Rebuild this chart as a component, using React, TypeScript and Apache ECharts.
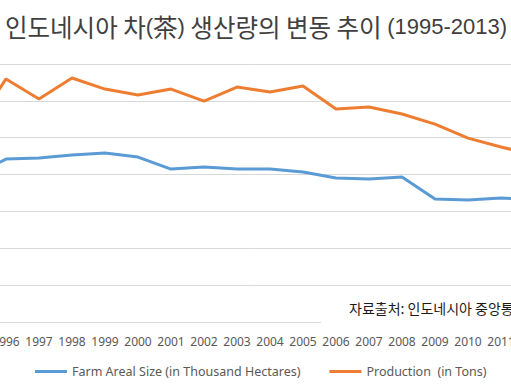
import React, { useEffect, useRef } from "react";
import * as echarts from "echarts";

const years = [
  "1995", "1996", "1997", "1998", "1999", "2000", "2001", "2002", "2003", "2004",
  "2005", "2006", "2007", "2008", "2009", "2010", "2011", "2012", "2013",
];
const farmArea = [
  79.5, 88.4, 89.0, 90.6, 91.7, 89.5, 83.0, 84.1, 83.0, 83.0,
  81.4, 78.1, 77.6, 78.7, 66.7, 66.2, 67.3, 66.2, 66.0,
];
const production = [
  105.0, 131.9, 121.0, 132.4, 126.4, 123.2, 126.4, 119.9, 127.5, 124.8,
  128.1, 115.6, 116.7, 112.9, 107.4, 99.8, 95.0, 90.6, 88.0,
];
const seriesNames = ["Farm Areal Size (in Thousand Hectares)", "Production  (in Tons)"];
const sourceNote = "자료출처: 인도네시아 중앙통";

// the visible window is a crop of a wider chart
const OFFSET = 60;
const CHART_W = 660;

export default function App() {
  const ref = useRef<HTMLDivElement>(null);
  useEffect(() => {
    if (!ref.current) return;
    const chart = echarts.init(ref.current, undefined, { renderer: "svg" });
    chart.setOption({
      animation: false,
      backgroundColor: "#ffffff",
      title: {
        text: "{k|인도네시아 차}{l|(}{k|茶}{l|)}{k| 생산량의 변동 추이 }{l|(1995-2013)}",
        left: OFFSET + 5,
        top: 14,
        padding: 0,
        textStyle: {
          fontWeight: "normal",
          rich: {
            k: { fontFamily: "Noto Sans CJK KR", fontSize: 24.5, fontWeight: "normal", color: "#404040" },
            l: { fontFamily: "Liberation Sans", fontSize: 22, fontWeight: "normal", color: "#404040" },
          },
        },
      },
      legend: {
        left: OFFSET + 30,
        top: 360,
        icon: "rect",
        itemWidth: 32,
        itemHeight: 3,
        itemGap: 29,
        textStyle: { fontFamily: "Noto Sans", fontSize: 12.5, color: "#595959" },
        data: seriesNames,
      },
      grid: { left: OFFSET - 43.5, right: CHART_W - (OFFSET + 583.5), top: 64, bottom: 69 },
      xAxis: {
        type: "category",
        data: years,
        boundaryGap: true,
        axisLine: { lineStyle: { color: "#D9D9D9", width: 1 } },
        axisTick: { show: false },
        axisLabel: {
          interval: 0,
          margin: 13,
          fontFamily: "Noto Sans",
          fontSize: 12,
          color: "#595959",
        },
      },
      yAxis: {
        type: "value",
        min: 0,
        max: 140,
        interval: 20,
        axisLabel: { show: false },
        axisLine: { show: false },
        axisTick: { show: false },
        splitLine: { lineStyle: { color: "#D9D9D9", width: 1 } },
      },
      series: [
        {
          name: seriesNames[0],
          type: "line",
          data: farmArea,
          showSymbol: false,
          symbol: "none",
          lineStyle: { color: "#5B9BD5", width: 3 },
          itemStyle: { color: "#5B9BD5" },
        },
        {
          name: seriesNames[1],
          type: "line",
          data: production,
          showSymbol: false,
          symbol: "none",
          lineStyle: { color: "#ED7D31", width: 3 },
          itemStyle: { color: "#ED7D31" },
        },
      ],
      graphic: [
        {
          type: "rect",
          z: 100,
          shape: { x: OFFSET + 321, y: 290, width: 300, height: 36 },
          style: { fill: "#ffffff" },
        },
        {
          type: "text",
          z: 101,
          x: OFFSET + 349,
          y: 308,
          style: {
            text: sourceNote,
            fontFamily: "Noto Sans CJK KR",
            fontSize: 14,
            fill: "#1a1a1a",
            verticalAlign: "middle",
          },
        },
      ],
    });
    return () => chart.dispose();
  }, []);
  return (
    <div
      style={{ position: "fixed", left: 0, top: 0, width: 511, height: 391, overflow: "hidden", background: "#fff" }}
    >
      <div
        ref={ref}
        style={{ position: "absolute", left: -OFFSET, top: 0, width: CHART_W, height: 391 }}
      />
    </div>
  );
}
